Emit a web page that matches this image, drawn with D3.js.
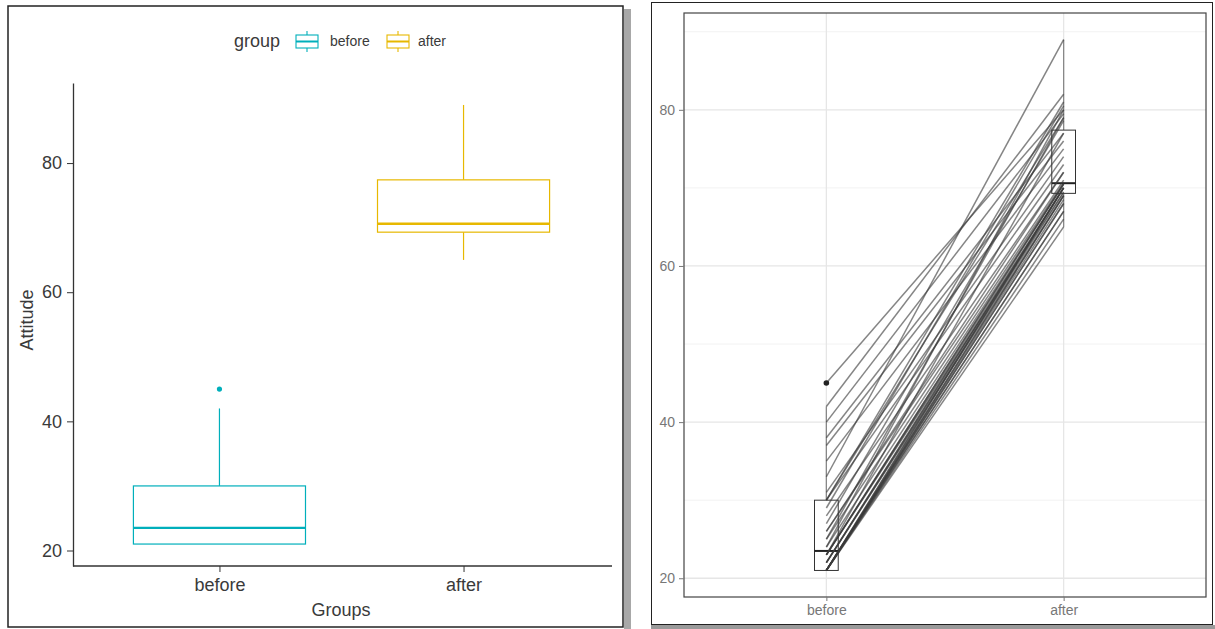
<!DOCTYPE html>
<html>
<head>
<meta charset="utf-8">
<script src="https://cdnjs.cloudflare.com/ajax/libs/d3/7.8.5/d3.min.js"></script>
<style>
  body { margin: 0; background: #fff; }
  svg { display: block; font-family: "Liberation Sans", Arial, sans-serif; }
</style>
</head>
<body>
<div id="chart"></div>
<script>
// data (one pair per participant)
const groups = ['before', 'after'];
const groupColors = ['#00AFBB', '#E7B800'];
const before = [45, 42, 40, 38, 37, 35, 33, 31, 30, 30, 30, 29, 28, 27, 26, 26, 25, 25, 24, 24,
                23, 23, 23, 23, 23, 22, 22, 22, 22, 21, 21, 21, 21, 21, 21, 21, 21, 21, 21, 21];
const after = [80, 82, 79.5, 77, 76, 75, 89, 74, 81, 79, 73, 80.5, 72, 78.6, 72, 71, 79, 70.7, 70.5, 80,
               77, 70.5, 70.5, 70, 69.5, 70, 69.4, 70, 69, 70, 69, 69, 68.5, 68, 68, 67, 67, 66, 65, 70];
const yTicks = [20, 40, 60, 80];
const yMinor = [30, 50, 70, 90];

const w = 1215;
const h = 629;

//Box stats like ggplot (type 7 quantiles, 1.5 IQR whiskers)
function boxStats(vals) {
  const s = vals.slice().sort(d3.ascending);
  const q1 = d3.quantile(s, 0.25);
  const med = d3.quantile(s, 0.5);
  const q3 = d3.quantile(s, 0.75);
  const iqr = q3 - q1;
  const inside = s.filter(v => v >= q1 - 1.5 * iqr && v <= q3 + 1.5 * iqr);
  return {
    q1, med, q3,
    lo: d3.min(inside),
    hi: d3.max(inside),
    out: s.filter(v => v < q1 - 1.5 * iqr || v > q3 + 1.5 * iqr)
  };
}

const series = [before, after];
const stats = series.map(boxStats);
const allVals = before.concat(after);
const ext = d3.extent(allVals);
const pad = (ext[1] - ext[0]) * 0.05;
const yDomain = [ext[0] - pad, ext[1] + pad];

const svg = d3.select('#chart')
              .append('svg')
              .attr('width', w)
              .attr('height', h);

//Screenshot frames
svg.append('rect').attr('x', 624).attr('y', 9).attr('width', 7).attr('height', 620).style('fill', '#a8a8a8');
svg.append('rect').attr('x', 8).attr('y', 6).attr('width', 615).attr('height', 621)
   .style('fill', '#fff').style('stroke', '#222').style('stroke-width', 1.5);
svg.append('rect').attr('x', 651).attr('y', 625).attr('width', 564).attr('height', 4).style('fill', '#9a9a9a');
svg.append('rect').attr('x', 651.5).attr('y', 2.5).attr('width', 561).attr('height', 622)
   .style('fill', '#fff').style('stroke', '#222').style('stroke-width', 1);

// ---------- Left chart: coloured boxplots ----------
const xL = d3.scalePoint().domain(groups).range([73, 610]).padding(0.6);
const yL = d3.scaleLinear().domain(yDomain).range([566, 83]);
const boxWL = xL.step() * 0.705;

const left = svg.append('g');

groups.forEach((g, i) => {
  const st = stats[i];
  const cx = xL(g);
  const col = groupColors[i];
  const bg = left.append('g').style('stroke', col).style('fill', 'none');
  bg.append('line').attr('x1', cx).attr('x2', cx).attr('y1', yL(st.q3)).attr('y2', yL(st.hi)).style('stroke-width', 1.2);
  bg.append('line').attr('x1', cx).attr('x2', cx).attr('y1', yL(st.q1)).attr('y2', yL(st.lo)).style('stroke-width', 1.2);
  bg.append('rect')
    .attr('x', cx - boxWL / 2).attr('width', boxWL)
    .attr('y', yL(st.q3)).attr('height', yL(st.q1) - yL(st.q3))
    .style('fill', '#fff').style('stroke-width', 1.2);
  bg.append('line').attr('x1', cx - boxWL / 2).attr('x2', cx + boxWL / 2)
    .attr('y1', yL(st.med)).attr('y2', yL(st.med)).style('stroke-width', 2.4);
  left.selectAll(null).data(st.out).enter().append('circle')
      .attr('cx', cx).attr('cy', d => yL(d)).attr('r', 2.6).style('fill', col);
});

const xAxisL = d3.axisBottom(xL).tickSize(6).tickSizeOuter(0).tickPadding(6);
const yAxisL = d3.axisLeft(yL).tickValues(yTicks).tickSize(6).tickSizeOuter(0).tickPadding(5);

const gxL = left.append('g').attr('transform', 'translate(0,566)').call(xAxisL);
gxL.select('.domain').attr('d', 'M73,0H612');
const gyL = left.append('g').attr('transform', 'translate(73,0)').call(yAxisL);
[gxL, gyL].forEach(a => {
  a.select('.domain').style('stroke', '#333').style('stroke-width', 1.3);
  a.selectAll('.tick line').style('stroke', '#333');
  a.selectAll('.tick text').style('fill', '#3a3a3a').style('font-size', '18px').style('font-family', '"Liberation Sans", Arial, sans-serif');
});

left.append('text')
    .attr('x', 341).attr('y', 616)
    .attr('text-anchor', 'middle')
    .style('font-size', '18px').style('fill', '#3a3a3a')
    .text('Groups');
left.append('text')
    .attr('transform', 'rotate(-90)')
    .attr('x', -320).attr('y', 33)
    .attr('text-anchor', 'middle')
    .style('font-size', '18px').style('fill', '#3a3a3a')
    .text('Attitude');

//Legend
left.append('text').attr('x', 234).attr('y', 47).style('font-size', '18px').style('fill', '#3a3a3a').text('group');
const legX = [296, 387];
const legLab = [330, 418];
groups.forEach((g, i) => {
  const k = left.append('g').style('stroke', groupColors[i]).style('fill', 'none').style('stroke-width', 1.1);
  k.append('line').attr('x1', legX[i] + 11).attr('x2', legX[i] + 11).attr('y1', 31).attr('y2', 35);
  k.append('line').attr('x1', legX[i] + 11).attr('x2', legX[i] + 11).attr('y1', 48).attr('y2', 52);
  k.append('rect').attr('x', legX[i]).attr('y', 35).attr('width', 22).attr('height', 13);
  k.append('line').attr('x1', legX[i]).attr('x2', legX[i] + 22).attr('y1', 41.5).attr('y2', 41.5).style('stroke-width', 2);
  left.append('text').attr('x', legLab[i]).attr('y', 46).style('font-size', '14px').style('fill', '#3a3a3a').text(g);
});

// ---------- Right chart: paired lines ----------
const xR = d3.scalePoint().domain(groups).range([684, 1206]).padding(0.6);
const yR = d3.scaleLinear().domain(yDomain).range([597, 13]);
const boxWR = xR.step() * 0.1;

const right = svg.append('g');

//Grid
right.selectAll(null).data(yMinor).enter().append('line')
     .attr('x1', 684).attr('x2', 1206).attr('y1', d => yR(d)).attr('y2', d => yR(d))
     .style('stroke', '#f2f2f2').style('stroke-width', 1);
right.selectAll(null).data(yTicks).enter().append('line')
     .attr('x1', 684).attr('x2', 1206).attr('y1', d => yR(d)).attr('y2', d => yR(d))
     .style('stroke', '#e6e6e6').style('stroke-width', 1.3);
right.selectAll(null).data(groups).enter().append('line')
     .attr('x1', d => xR(d)).attr('x2', d => xR(d)).attr('y1', 13).attr('y2', 597)
     .style('stroke', '#e6e6e6').style('stroke-width', 1.3);

//Boxes
groups.forEach((g, i) => {
  const st = stats[i];
  const cx = xR(g);
  right.append('line').attr('x1', cx).attr('x2', cx).attr('y1', yR(st.q3)).attr('y2', yR(st.hi))
       .style('stroke', '#888').style('stroke-width', 1.3);
  right.append('line').attr('x1', cx).attr('x2', cx).attr('y1', yR(st.q1)).attr('y2', yR(st.lo))
       .style('stroke', '#888').style('stroke-width', 1.3);
  right.append('rect')
       .attr('x', cx - boxWR / 2).attr('width', boxWR)
       .attr('y', yR(st.q3)).attr('height', yR(st.q1) - yR(st.q3))
       .style('fill', '#fff').style('stroke', '#333').style('stroke-width', 1);
  right.append('line').attr('x1', cx - boxWR / 2).attr('x2', cx + boxWR / 2)
       .attr('y1', yR(st.med)).attr('y2', yR(st.med))
       .style('stroke', '#222').style('stroke-width', 2);
});

//Paired lines
const pairs = before.map((b, i) => [{g: 'before', v: b}, {g: 'after', v: after[i]}]);
const line = d3.line().x(d => xR(d.g)).y(d => yR(d.v));
right.selectAll('path.pair')
     .data(pairs)
     .enter()
     .append('path')
     .attr('class', 'pair')
     .attr('d', line)
     .style('fill', 'none')
     .style('stroke', '#3a3a3a')
     .style('stroke-opacity', 0.62)
     .style('stroke-width', 1.5);

groups.forEach((g, i) => {
  right.selectAll(null).data(stats[i].out).enter().append('circle')
       .attr('cx', xR(g)).attr('cy', d => yR(d)).attr('r', 2.8).style('fill', '#222');
});

//Panel border
right.append('rect').attr('x', 684).attr('y', 13).attr('width', 522).attr('height', 584)
     .style('fill', 'none').style('stroke', '#444').style('stroke-width', 1.2);

//Axes
const xAxisR = d3.axisBottom(xR).tickSize(4).tickSizeOuter(0).tickPadding(4);
const yAxisR = d3.axisLeft(yR).tickValues(yTicks).tickSize(5).tickSizeOuter(0).tickPadding(4);
const gxR = right.append('g').attr('transform', 'translate(0,597)').call(xAxisR);
const gyR = right.append('g').attr('transform', 'translate(684,0)').call(yAxisR);
[gxR, gyR].forEach(a => {
  a.select('.domain').remove();
  a.selectAll('.tick line').style('stroke', '#777');
  a.selectAll('.tick text').style('fill', '#777').style('font-size', '14px').style('font-family', '"Liberation Sans", Arial, sans-serif');
});
</script>
</body>
</html>
